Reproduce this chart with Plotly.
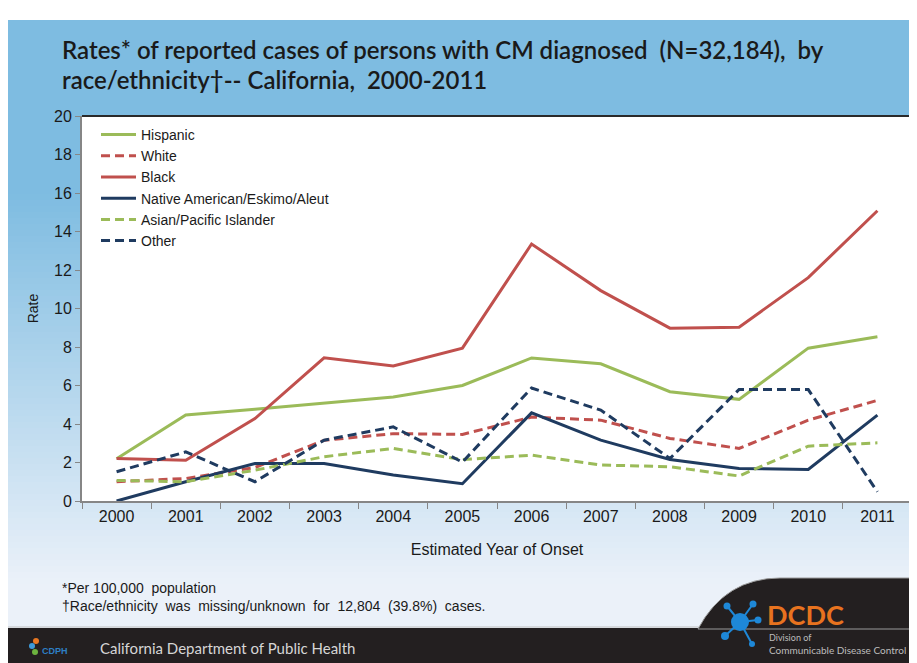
import plotly.graph_objects as go

# reference page size; the browser puts the figure 8px in from top/left
PW, PH = 917, 663
OFF = 8
W, H = PW - OFF, PH - OFF
# plot area in page pixels
L, R, T, B = 82, 912, 116, 501

years = [str(y) for y in range(2000, 2012)]

hispanic = [2.2, 4.47, 4.77, 5.08, 5.4, 6.0, 7.43, 7.13, 5.68, 5.28, 7.94, 8.53]
white = [1.0, 1.17, 1.74, 3.15, 3.5, 3.46, 4.36, 4.2, 3.25, 2.73, 4.2, 5.23]
black = [2.21, 2.12, 4.28, 7.44, 7.01, 7.94, 13.35, 10.93, 8.98, 9.03, 11.6, 15.08]
native = [0.0, 1.0, 1.95, 1.95, 1.35, 0.9, 4.58, 3.16, 2.16, 1.69, 1.64, 4.46]
asian = [1.07, 1.0, 1.6, 2.3, 2.73, 2.15, 2.38, 1.87, 1.78, 1.3, 2.85, 3.02]
other = [1.52, 2.55, 1.0, 3.16, 3.85, 2.02, 5.87, 4.72, 2.21, 5.79, 5.79, 0.48]

GREEN = "#9BBB59"
RED = "#C0504D"
NAVY = "#1F3B60"
DASH = "9px,5px"

series = [
    ("Hispanic", hispanic, GREEN, "solid"),
    ("White", white, RED, DASH),
    ("Black", black, RED, "solid"),
    ("Native American/Eskimo/Aleut", native, NAVY, "solid"),
    ("Asian/Pacific Islander", asian, GREEN, DASH),
    ("Other", other, NAVY, DASH),
]


def px_x(p):
    return (p - L) / (R - L)


def px_y(p):
    return (B - p) / (B - T)


def mix(c1, c2, t):
    a = [int(c1[i:i + 2], 16) for i in (1, 3, 5)]
    b = [int(c2[i:i + 2], 16) for i in (1, 3, 5)]
    return "rgb({},{},{})".format(*[round(a[k] + (b[k] - a[k]) * t) for k in range(3)])


fig = go.Figure()
for name, vals, color, dash in series:
    fig.add_trace(
        go.Scatter(
            x=years,
            y=vals,
            name=name,
            mode="lines",
            line={"color": color, "width": 3, "dash": dash},
        )
    )

shapes = []
# background gradient (blue at top, pale at bottom)
top_c, bot_c = "#7EBCE1", "#EBF1F9"
step = 6
for y0 in range(20, 628, step):
    y1 = min(y0 + step, 628)
    t = min(max((y0 - 190) / 390, 0), 1)
    shapes.append(dict(type="rect", xref="paper", yref="paper", layer="below",
                       x0=px_x(OFF - 1), x1=px_x(PW + 1), y0=px_y(y1), y1=px_y(y0),
                       fillcolor=mix(top_c, bot_c, t), line_width=0))
# plot area
shapes.append(dict(type="rect", xref="paper", yref="paper", layer="below",
                   x0=0, x1=1, y0=0, y1=1, fillcolor="white", line_width=0))
# dark top and right border
shapes.append(dict(type="line", xref="paper", yref="paper", x0=0, x1=1, y0=1, y1=1,
                   line={"color": "#2a2a2a", "width": 2}))
shapes.append(dict(type="line", xref="paper", yref="paper", x0=1, x1=1, y0=0, y1=1,
                   line={"color": "#2a2a2a", "width": 2}))
# bottom dark bar
shapes.append(dict(type="rect", xref="paper", yref="paper",
                   x0=px_x(OFF - 1), x1=px_x(PW + 1), y0=px_y(PH + 1), y1=px_y(628),
                   fillcolor="#231F20", line_width=0))
shapes.append(dict(type="line", xref="paper", yref="paper",
                   x0=px_x(OFF), x1=px_x(700), y0=px_y(627), y1=px_y(627),
                   line={"color": "#bfbfbf", "width": 1}))
# curved tab for logo
path = "M {},{} Q {},{} {},{} L {},{} L {},{} Z".format(
    px_x(698), px_y(629), px_x(725), px_y(578), px_x(780), px_y(578),
    px_x(PW + 1), px_y(578), px_x(PW + 1), px_y(629))
shapes.append(dict(type="path", xref="paper", yref="paper", path=path,
                   fillcolor="#231F20", line={"color": "#9a9a9a", "width": 1}))
# DCDC network icon
nodes = [(740, 622, 9), (727, 606, 3.5), (753, 604, 3.5), (758, 620, 3.5),
         (725, 636, 4), (752, 644, 3)]
for cx, cy, r in nodes[1:]:
    shapes.append(dict(type="line", xref="paper", yref="paper",
                       x0=px_x(740), y0=px_y(622), x1=px_x(cx), y1=px_y(cy),
                       line={"color": "#1E88D8", "width": 2}))
for cx, cy, r in nodes:
    shapes.append(dict(type="circle", xref="paper", yref="paper",
                       x0=px_x(cx - r), x1=px_x(cx + r), y0=px_y(cy + r), y1=px_y(cy - r),
                       fillcolor="#1E88D8", line_width=0))
# small CDPH mark
for cx, cy, r, c in [(36, 641, 3, "#E87722"), (32, 646, 3, "#3D9BD9"), (35, 652, 3, "#6DB33F")]:
    shapes.append(dict(type="circle", xref="paper", yref="paper",
                       x0=px_x(cx - r), x1=px_x(cx + r), y0=px_y(cy + r), y1=px_y(cy - r),
                       fillcolor=c, line_width=0))

ann = []
title_font = {"family": "Lato, Open Sans, sans-serif", "size": 24, "color": "#1a1a1a", "weight": 600}
ann.append(dict(text="Rates* of reported cases of persons with CM diagnosed  (N=32,184),  by",
                x=px_x(60), y=px_y(50), xanchor="left", yanchor="middle", font=title_font))
ann.append(dict(text="race/ethnicity†-- California,  2000-2011",
                x=px_x(60), y=px_y(80), xanchor="left", yanchor="middle", font=title_font))
foot_font = {"family": "Liberation Sans, Arial", "size": 14, "color": "#1a1a1a"}
ann.append(dict(text="*Per 100,000  population", x=px_x(60), y=px_y(588),
                xanchor="left", yanchor="middle", font=foot_font))
ann.append(dict(text="†Race/ethnicity  was  missing/unknown  for  12,804  (39.8%)  cases.",
                x=px_x(60), y=px_y(606), xanchor="left", yanchor="middle", font=foot_font))
ann.append(dict(text="California Department of Public Health", x=px_x(98), y=px_y(648),
                xanchor="left", yanchor="middle",
                font={"family": "Lato, sans-serif", "size": 15, "color": "#d6d6d6"}))
ann.append(dict(text="<b>CDPH</b>", x=px_x(40), y=px_y(651), xanchor="left", yanchor="middle",
                font={"family": "Liberation Sans", "size": 9, "color": "#2E7FC4"}))
ann.append(dict(text="<b>DCDC</b>", x=px_x(765), y=px_y(614), xanchor="left", yanchor="middle",
                font={"family": "Lato, sans-serif", "size": 27, "color": "#E8731F"}))
ann.append(dict(text="Division of", x=px_x(767), y=px_y(637), xanchor="left", yanchor="middle",
                font={"family": "Lato, sans-serif", "size": 9, "color": "#bdbdbd"}))
ann.append(dict(text="Communicable Disease Control", x=px_x(767), y=px_y(650), xanchor="left",
                yanchor="middle", font={"family": "Lato, sans-serif", "size": 10, "color": "#bdbdbd"}))
for a in ann:
    a.update(xref="paper", yref="paper", showarrow=False)

axis_font = {"family": "Liberation Sans, Arial", "size": 16, "color": "#1a1a1a"}
legend_font = {"family": "Liberation Sans, Arial", "size": 14, "color": "#1a1a1a"}
fig.update_layout(
    width=W,
    height=H,
    margin={"l": L - OFF, "r": PW - R, "t": T - OFF, "b": PH - B, "pad": 0},
    paper_bgcolor="white",
    plot_bgcolor="rgba(0,0,0,0)",
    shapes=shapes,
    annotations=ann,
    showlegend=True,
    legend={
        "x": px_x(96), "y": px_y(119), "xanchor": "left", "yanchor": "top",
        "bgcolor": "rgba(0,0,0,0)", "font": legend_font, "itemwidth": 35,
        "tracegroupgap": 0,
    },
    xaxis={
        "type": "category",
        "range": [-0.5, 11.5],
        "tickson": "boundaries",
        "ticks": "outside",
        "ticklen": 6,
        "tickcolor": "#868686",
        "showline": True,
        "linecolor": "#868686",
        "linewidth": 2,
        "showgrid": False,
        "tickfont": axis_font,
        "title": {"text": "Estimated Year of Onset", "font": axis_font, "standoff": 20},
    },
    yaxis={
        "range": [0, 20],
        "dtick": 2,
        "ticks": "outside",
        "ticklen": 5,
        "tickcolor": "#868686",
        "showline": True,
        "linecolor": "#868686",
        "linewidth": 2,
        "showgrid": False,
        "zeroline": False,
        "tickfont": axis_font,
        "title": {"text": "Rate", "font": legend_font, "standoff": 12},
    },
)

fig.write_html("out.html")
